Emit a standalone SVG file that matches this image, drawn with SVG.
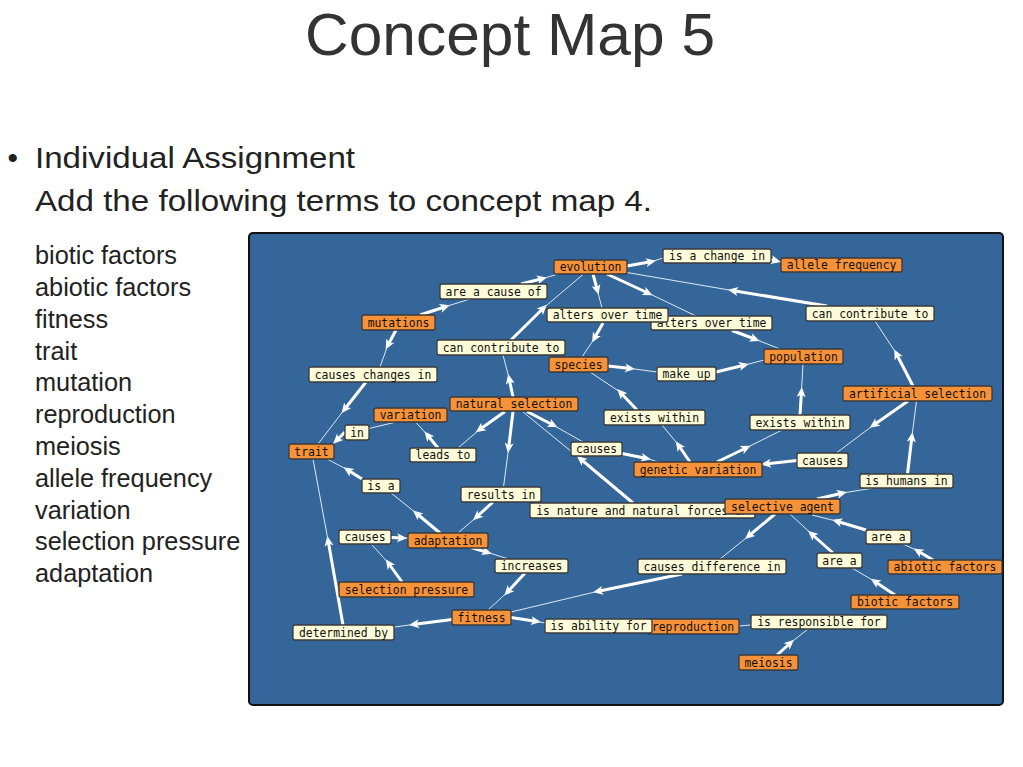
<svg xmlns="http://www.w3.org/2000/svg" width="1023" height="767" viewBox="0 0 1023 767">
<style>
.slide{font-family:"Liberation Sans",Arial,sans-serif;fill:#222}
.c rect{fill:#f79238;stroke:#3a3a3a;stroke-width:1.3}
.l rect{fill:#fefcd8;stroke:#3a3a3a;stroke-width:1.3}
.c text,.l text{font-family:"DejaVu Sans Mono",monospace;font-size:11.4px;fill:#111;text-anchor:middle}
.k{stroke:#fff;stroke-width:3;fill:none;marker-end:url(#ah)}
.n{stroke:#dfe8f2;stroke-width:1;fill:none}
</style>
<defs>
<marker id="ah" viewBox="-7 -5 12 10" refX="0" refY="0" markerWidth="12" markerHeight="10" markerUnits="userSpaceOnUse" orient="auto">
<path d="M4,0 L-6,-4.5 L-3.5,0 L-6,4.5 z" fill="#fff"/>
</marker>
</defs>
<rect width="1023" height="767" fill="#fff"/>
<text class="slide" x="305" y="54.5" font-size="60" style="fill:#333" textLength="410" lengthAdjust="spacingAndGlyphs">Concept Map 5</text>
<text class="slide" x="7.5" y="167.5" font-size="30">•</text>
<text class="slide" x="35" y="167.5" font-size="30" textLength="320" lengthAdjust="spacingAndGlyphs">Individual Assignment</text>
<text class="slide" x="35" y="210.5" font-size="30" textLength="617" lengthAdjust="spacingAndGlyphs">Add the following terms to concept map 4.</text>
<g class="slide" font-size="25.3">
<text x="35" y="264">biotic factors</text>
<text x="35" y="296">abiotic factors</text>
<text x="35" y="328">fitness</text>
<text x="35" y="359.5">trait</text>
<text x="35" y="391">mutation</text>
<text x="35" y="423">reproduction</text>
<text x="35" y="455">meiosis</text>
<text x="35" y="487">allele frequency</text>
<text x="35" y="518.5">variation</text>
<text x="35" y="550">selection pressure</text>
<text x="35" y="582">adaptation</text>
</g>
<rect id="panel" x="249" y="233" width="754" height="472" rx="4" fill="#34669a" stroke="#111" stroke-width="2"/>
<g id="connectors">
<path class="k" d="M420,315 L446,306.5"/><path class="n" d="M446,306.5 L470,299"/>
<path class="k" d="M521,284 L543,278.5"/><path class="n" d="M543,278.5 L558,274"/>
<path class="k" d="M396,330 L387.5,346"/><path class="n" d="M387.5,346 L380,367"/>
<path class="k" d="M366,382 L344,410"/><path class="n" d="M344,410 L318,444"/>
<path class="k" d="M627,266 L652,261.5"/><path class="n" d="M652,261.5 L663,258"/>
<path class="k" d="M771,259.5 L777,261"/><path class="n" d="M777,261 L781,262"/>
<path class="k" d="M593,274 L597.5,291"/><path class="n" d="M597.5,291 L602,308"/>
<path class="k" d="M603,323 L594,339"/><path class="n" d="M594,339 L582,357"/>
<path class="k" d="M607,274 L649,293.5"/><path class="n" d="M649,293.5 L697,316.5"/>
<path class="k" d="M732,330.5 L756,339.5"/><path class="n" d="M756,339.5 L780,349"/>
<path class="k" d="M513,397 L509,378"/><path class="n" d="M509,378 L503,355"/>
<path class="k" d="M511,340 L544,307.5"/><path class="n" d="M544,307.5 L583,274.5"/>
<path class="k" d="M913,386 L896,353"/><path class="n" d="M896,353 L875,321"/>
<path class="k" d="M827,306 L732,290.5"/><path class="n" d="M732,290.5 L627,272.5"/>
<path class="k" d="M608,366 L631,368.5"/><path class="n" d="M631,368.5 L657,372"/>
<path class="k" d="M716,372 L745,365"/><path class="n" d="M745,365 L764,360"/>
<path class="k" d="M690,462 L678,444.5"/><path class="n" d="M678,444.5 L662,425"/>
<path class="k" d="M637,410 L620,392"/><path class="n" d="M620,392 L590,372"/>
<path class="k" d="M717,462 L747,447.5"/><path class="n" d="M747,447.5 L782,430"/>
<path class="k" d="M800,415 L801.5,391"/><path class="n" d="M801.5,391 L803,364"/>
<path class="k" d="M527,411.5 L554,425.5"/><path class="n" d="M554,425.5 L583,442"/>
<path class="k" d="M622,453.5 L647,458.5"/><path class="n" d="M647,458.5 L658,462"/>
<path class="k" d="M505,411.5 L479,430"/><path class="n" d="M479,430 L458,448"/>
<path class="k" d="M438,448 L427,434.5"/><path class="n" d="M427,434.5 L416,422.5"/>
<path class="n" d="M394,422.5 L369,428.5"/>
<path class="k" d="M345,432 L336,441"/><path class="n" d="M336,441 L333,444"/>
<path class="k" d="M513,411.5 L508.5,449"/><path class="n" d="M508.5,449 L503.5,487"/>
<path class="k" d="M493,502 L476,517.5"/><path class="n" d="M476,517.5 L458,533"/>
<path class="k" d="M440,533 L416,513"/><path class="n" d="M416,513 L391,493"/>
<path class="k" d="M362,479 L347,469.5"/><path class="n" d="M347,469.5 L328,459.5"/>
<path class="k" d="M402,582 L388,562.5"/><path class="n" d="M388,562.5 L372,545"/>
<path class="k" d="M391,537.5 L403,538"/><path class="n" d="M403,538 L408,538"/>
<path class="k" d="M471,547.5 L488,552.5"/><path class="n" d="M488,552.5 L507,558.5"/>
<path class="k" d="M525,573 L507,592.5"/><path class="n" d="M507,592.5 L488,610"/>
<path class="k" d="M452,619.5 L413,624.5"/><path class="n" d="M413,624.5 L394.5,627"/>
<path class="k" d="M343,625 L328,540"/><path class="n" d="M328,540 L313,459"/>
<path class="k" d="M511,617.5 L537,621.5"/><path class="n" d="M537,621.5 L545,623"/>
<path class="k" d="M777,655 L791,642.5"/><path class="n" d="M791,642.5 L808,629"/>
<path class="n" d="M751,625 L739,626"/>
<path class="k" d="M775,514 L748,536.5"/><path class="n" d="M748,536.5 L720,559"/>
<path class="k" d="M682,574 L597,591.5"/><path class="n" d="M597,591.5 L511,612"/>
<path class="k" d="M895,595 L874,581"/><path class="n" d="M874,581 L852,568"/>
<path class="k" d="M833,553 L811,533.5"/><path class="n" d="M811,533.5 L790,514"/>
<path class="k" d="M933,560 L917,550.5"/><path class="n" d="M917,550.5 L903,544"/>
<path class="k" d="M866,530 L836,521"/><path class="n" d="M836,521 L812,515"/>
<path class="k" d="M817,499 L843,493"/><path class="n" d="M843,493 L873,488"/>
<path class="k" d="M907.5,474 L912,436"/><path class="n" d="M912,436 L916.5,401"/>
<path class="k" d="M908,401 L873,425.5"/><path class="n" d="M873,425.5 L835,454"/>
<path class="k" d="M797,460.5 L765,464"/><path class="n" d="M765,464 L762,464.5"/>
<path class="k" d="M633,503 L580,458.5"/><path class="n" d="M580,458.5 L523,412"/>
</g>
<g id="evolution" class="c"><rect x="554" y="260" width="73" height="14" rx="2"/><text x="590.5" y="271">evolution</text></g>
<g id="is-a-change-in" class="l"><rect x="663" y="249" width="108" height="14" rx="2"/><text x="717" y="260">is a change in</text></g>
<g id="allele-frequency" class="c"><rect x="781" y="258" width="121" height="14" rx="2"/><text x="841.5" y="269">allele frequency</text></g>
<g id="are-a-cause-of" class="l"><rect x="440" y="284" width="107" height="15" rx="2"/><text x="493.5" y="295.5">are a cause of</text></g>
<g id="mutations" class="c"><rect x="362" y="315" width="73" height="15" rx="2"/><text x="398.5" y="326.5">mutations</text></g>
<g id="alters-over-time-2" class="l"><rect x="651" y="316" width="121" height="14" rx="2"/><text x="711.5" y="327">alters over time</text></g>
<g id="alters-over-time-1" class="l"><rect x="547" y="308" width="121" height="14" rx="2"/><text x="607.5" y="319">alters over time</text></g>
<g id="can-contribute-to-1" class="l"><rect x="437" y="340" width="128" height="15" rx="2"/><text x="501" y="351.5">can contribute to</text></g>
<g id="can-contribute-to-2" class="l"><rect x="806" y="306" width="128" height="15" rx="2"/><text x="870" y="317.5">can contribute to</text></g>
<g id="species" class="c"><rect x="549" y="357" width="59" height="15" rx="2"/><text x="578.5" y="368.5">species</text></g>
<g id="make-up" class="l"><rect x="657" y="367" width="59" height="14" rx="2"/><text x="686.5" y="378">make up</text></g>
<g id="population" class="c"><rect x="764" y="349" width="79" height="15" rx="2"/><text x="803.5" y="360.5">population</text></g>
<g id="causes-changes-in" class="l"><rect x="309" y="367" width="128" height="15" rx="2"/><text x="373" y="378.5">causes changes in</text></g>
<g id="natural-selection" class="c"><rect x="450" y="397" width="128" height="14" rx="2"/><text x="514" y="408">natural selection</text></g>
<g id="variation" class="c"><rect x="374" y="408" width="73" height="14" rx="2"/><text x="410.5" y="419">variation</text></g>
<g id="artificial-selection" class="c"><rect x="843" y="386" width="149" height="15" rx="2"/><text x="917.5" y="397.5">artificial selection</text></g>
<g id="exists-within-1" class="l"><rect x="604" y="410" width="101" height="15" rx="2"/><text x="654.5" y="421.5">exists within</text></g>
<g id="exists-within-2" class="l"><rect x="750" y="415" width="100" height="15" rx="2"/><text x="800" y="426.5">exists within</text></g>
<g id="in" class="l"><rect x="345" y="425" width="24" height="15" rx="2"/><text x="357" y="436.5">in</text></g>
<g id="trait" class="c"><rect x="289" y="444" width="45" height="15" rx="2"/><text x="311.5" y="455.5">trait</text></g>
<g id="leads-to" class="l"><rect x="410" y="448" width="66" height="14" rx="2"/><text x="443" y="459">leads to</text></g>
<g id="causes-1" class="l"><rect x="571" y="442" width="51" height="14" rx="2"/><text x="596.5" y="453">causes</text></g>
<g id="genetic-variation" class="c"><rect x="634" y="462" width="128" height="15" rx="2"/><text x="698" y="473.5">genetic variation</text></g>
<g id="causes-2" class="l"><rect x="797" y="453" width="51" height="15" rx="2"/><text x="822.5" y="464.5">causes</text></g>
<g id="is-humans-in" class="l"><rect x="860" y="474" width="93" height="14" rx="2"/><text x="906.5" y="485">is humans in</text></g>
<g id="is-a" class="l"><rect x="362" y="479" width="38" height="14" rx="2"/><text x="381" y="490">is a</text></g>
<g id="results-in" class="l"><rect x="461" y="487" width="80" height="15" rx="2"/><text x="501" y="498.5">results in</text></g>
<g id="is-nature" class="l"><rect x="530" y="503" width="225" height="15" rx="2"/><text x="642.5" y="514.5">is nature and natural forces in</text></g>
<g id="selective-agent" class="c"><rect x="725" y="499" width="115" height="15" rx="2"/><text x="782.5" y="510.5">selective agent</text></g>
<g id="causes-3" class="l"><rect x="339" y="530" width="52" height="14" rx="2"/><text x="365" y="541">causes</text></g>
<g id="adaptation" class="c"><rect x="408" y="533" width="80" height="15" rx="2"/><text x="448" y="544.5">adaptation</text></g>
<g id="are-a-1" class="l"><rect x="866" y="530" width="45" height="14" rx="2"/><text x="888.5" y="541">are a</text></g>
<g id="are-a-2" class="l"><rect x="817" y="553" width="45" height="15" rx="2"/><text x="839.5" y="564.5">are a</text></g>
<g id="increases" class="l"><rect x="495" y="559" width="73" height="14" rx="2"/><text x="531.5" y="570">increases</text></g>
<g id="causes-difference-in" class="l"><rect x="638" y="559" width="148" height="15" rx="2"/><text x="712" y="570.5">causes difference in</text></g>
<g id="abiotic-factors" class="c"><rect x="888" y="560" width="114" height="14" rx="2"/><text x="945" y="571">abiotic factors</text></g>
<g id="selection-pressure" class="c"><rect x="339" y="582" width="135" height="15" rx="2"/><text x="406.5" y="593.5">selection pressure</text></g>
<g id="biotic-factors" class="c"><rect x="851" y="595" width="108" height="14" rx="2"/><text x="905" y="606">biotic factors</text></g>
<g id="fitness" class="c"><rect x="452" y="610" width="59" height="15" rx="2"/><text x="481.5" y="621.5">fitness</text></g>
<g id="is-responsible-for" class="l"><rect x="751" y="615" width="136" height="14" rx="2"/><text x="819" y="626">is responsible for</text></g>
<g id="reproduction" class="c"><rect x="647" y="619" width="92" height="15" rx="2"/><text x="693" y="630.5">reproduction</text></g>
<g id="is-ability-for" class="l"><rect x="545" y="619" width="107" height="14" rx="2"/><text x="598.5" y="630">is ability for</text></g>
<g id="determined-by" class="l"><rect x="293" y="625" width="101" height="15" rx="2"/><text x="343.5" y="636.5">determined by</text></g>
<g id="meiosis" class="c"><rect x="739" y="655" width="59" height="15" rx="2"/><text x="768.5" y="666.5">meiosis</text></g>
</svg>
